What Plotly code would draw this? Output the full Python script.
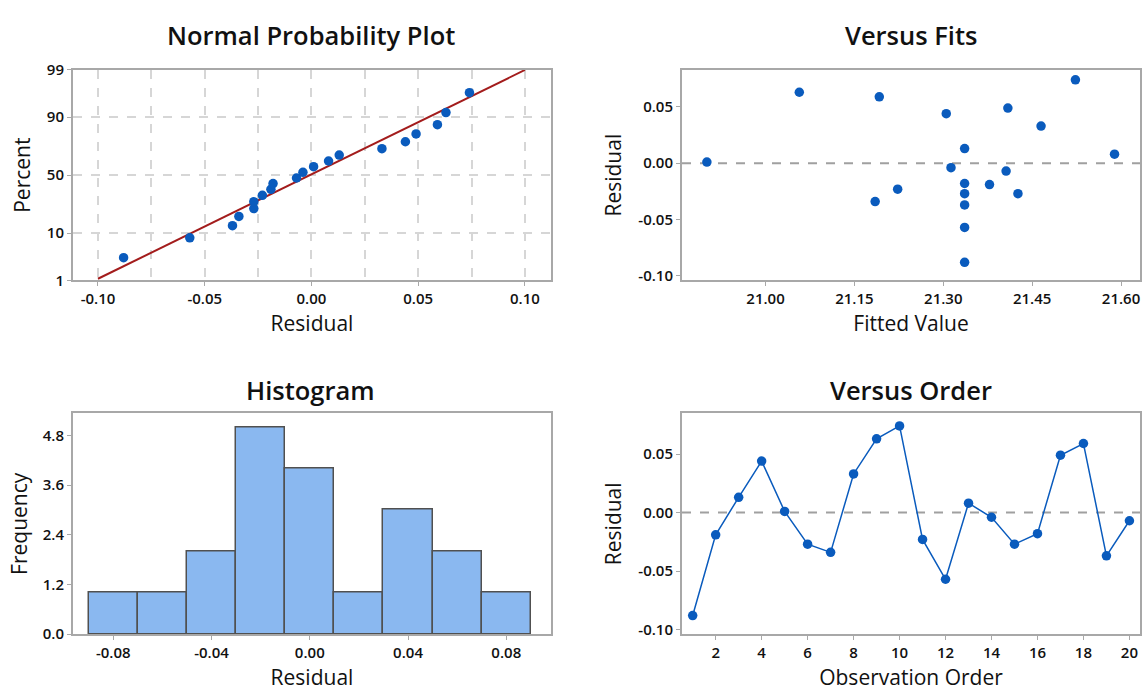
import plotly.graph_objects as go
from statistics import NormalDist

# ---------------- data ----------------
obs_order = list(range(1, 21))
residuals = [-0.088, -0.019, 0.013, 0.044, 0.001, -0.027, -0.034, 0.033, 0.063, 0.074,
             -0.023, -0.057, 0.008, -0.004, -0.027, -0.018, 0.049, 0.059, -0.037, -0.007]
fitted = [21.336, 21.378, 21.336, 21.305, 20.901, 21.336, 21.185, 21.465, 21.057, 21.523,
          21.223, 21.336, 21.589, 21.313, 21.426, 21.336, 21.409, 21.192, 21.336, 21.406]
npp_percent = [3.4, 8.3, 13.2, 18.1, 23.0, 27.9, 32.8, 37.7, 42.6, 47.5,
               52.5, 57.4, 62.3, 67.2, 72.1, 77.0, 81.9, 86.8, 91.7, 96.6]
fit_line_x = [-0.10, 0.10]
fit_line_percent = [1.1, 99.0]
pct_ticks = [1, 10, 50, 90, 99]

W, H = 1143, 699
BLUE = "#0a5bbd"
RED = "#a31c1c"
FRAME = "#a8a8a8"
FONT = "Open Sans"

nd = NormalDist()
def z(p):
    return nd.inv_cdf(p / 100.0)

npp_x = sorted(residuals)
npp_z = [z(p) for p in npp_percent]

def dx(a, b):
    return [a / W, b / W]
def dy(top, bottom):
    return [1 - bottom / H, 1 - top / H]

fig = go.Figure()

# Normal probability plot
fig.add_trace(go.Scatter(x=fit_line_x, y=[z(p) for p in fit_line_percent],
                         mode="lines", line=dict(color=RED, width=2),
                         xaxis="x", yaxis="y", showlegend=False, hoverinfo="skip"))
fig.add_trace(go.Scatter(x=npp_x, y=npp_z, mode="markers",
                         marker=dict(color=BLUE, size=9.5),
                         xaxis="x", yaxis="y", showlegend=False))

# Versus fits
fig.add_trace(go.Scatter(x=fitted, y=residuals, mode="markers",
                         marker=dict(color=BLUE, size=9.5),
                         xaxis="x2", yaxis="y2", showlegend=False))

# Histogram
fig.add_trace(go.Histogram(x=residuals, xbins=dict(start=-0.09, end=0.09, size=0.02),
                           marker=dict(color="#8ab8f0", line=dict(color="#505050", width=1.5)),
                           xaxis="x3", yaxis="y3", showlegend=False))

# Versus order
fig.add_trace(go.Scatter(x=obs_order, y=residuals, mode="lines+markers",
                         line=dict(color=BLUE, width=1.5),
                         marker=dict(color=BLUE, size=9.5),
                         xaxis="x4", yaxis="y4", showlegend=False))

tickfont = dict(family=FONT, size=15, color="#111111", weight=600)
titlefont = dict(family=FONT, size=21, color="#111111", weight=500)

def ax(**kw):
    base = dict(showline=True, linecolor=FRAME, linewidth=2, mirror=True,
                ticks="outside", ticklen=4, tickcolor=FRAME, tickwidth=1,
                showgrid=False, zeroline=False, tickfont=tickfont)
    base.update(kw)
    return base

npp_top, npp_bot = 60.7, 277.3
bot_top, bot_bot = 414.3, 641.5

fig.update_layout(
    width=W, height=H,
    margin=dict(l=0, r=0, t=0, b=0),
    paper_bgcolor="white", plot_bgcolor="white",
    bargap=0,
    xaxis=ax(domain=dx(73, 551), anchor="y", range=[-0.1117, 0.1122],
             tickvals=[-0.10, -0.05, 0.0, 0.05, 0.10], ticktext=["-0.10", "-0.05", "0.00", "0.05", "0.10"],
             showgrid=True, gridcolor="#d6d6d6", griddash="dash", gridwidth=1.5,
             minor=dict(dtick=0.025, tick0=0, showgrid=True, gridcolor="#d6d6d6",
                        griddash="dash", gridwidth=1.5, ticks=""),
             title=dict(text="Residual", font=titlefont, standoff=9)),
    yaxis=ax(domain=dy(npp_top, npp_bot), anchor="x", range=[z(1), z(99)],
             tickvals=[z(p) for p in pct_ticks], ticktext=[str(p) for p in pct_ticks],
             showgrid=True, gridcolor="#d6d6d6", griddash="dash", gridwidth=1.5,
             title=dict(text="Percent", font=titlefont, standoff=10)),
    xaxis2=ax(domain=dx(682, 1140), anchor="y2", range=[20.859, 21.632],
              tickvals=[21.00, 21.15, 21.30, 21.45, 21.60], tickformat=".2f",
              title=dict(text="Fitted Value", font=titlefont, standoff=9)),
    yaxis2=ax(domain=dy(npp_top, npp_bot), anchor="x2", range=[-0.104, 0.0828],
              tickvals=[-0.10, -0.05, 0.0, 0.05], ticktext=["-0.10", "-0.05", "0.00", "0.05"],
              title=dict(text="Residual", font=titlefont, standoff=11)),
    xaxis3=ax(domain=dx(73, 551), anchor="y3", range=[-0.0964, 0.0982],
              tickvals=[-0.08, -0.04, 0.0, 0.04, 0.08], ticktext=["-0.08", "-0.04", "0.00", "0.04", "0.08"],
              title=dict(text="Residual", font=titlefont, standoff=9)),
    yaxis3=ax(domain=dy(bot_top, bot_bot), anchor="x3", range=[0, 5.33],
              tickvals=[0, 1.2, 2.4, 3.6, 4.8], tickformat=".1f",
              title=dict(text="Frequency", font=titlefont, standoff=9)),
    xaxis4=ax(domain=dx(682, 1140), anchor="y4", range=[0.535, 20.46],
              tickvals=list(range(2, 21, 2)),
              title=dict(text="Observation Order", font=titlefont, standoff=9)),
    yaxis4=ax(domain=dy(bot_top, bot_bot), anchor="x4", range=[-0.1039, 0.0847],
              tickvals=[-0.10, -0.05, 0.0, 0.05], ticktext=["-0.10", "-0.05", "0.00", "0.05"],
              title=dict(text="Residual", font=titlefont, standoff=11)),
)

# zero reference lines
for xr, yr in [("x2", "y2"), ("x4", "y4")]:
    fig.add_shape(type="line", xref=f"{xr} domain", yref=yr, x0=0, x1=1, y0=0, y1=0,
                  line=dict(color="#a0a0a0", width=2, dash="dash"), layer="below")

# subplot titles
titles = [("Normal Probability Plot", 311, 25), ("Versus Fits", 911, 25),
          ("Histogram", 311, 390), ("Versus Order", 911, 390)]
for text, px, py in titles:
    fig.add_annotation(text=text, xref="paper", yref="paper", x=px / W, y=1 - py / H,
                       xanchor="center", yanchor="middle", showarrow=False,
                       font=dict(family=FONT, size=25.5, color="#111111", weight=600))

fig.write_html("out.html", config={"displayModeBar": False},
               post_script="document.body.style.margin='0';document.body.style.overflow='hidden';")
